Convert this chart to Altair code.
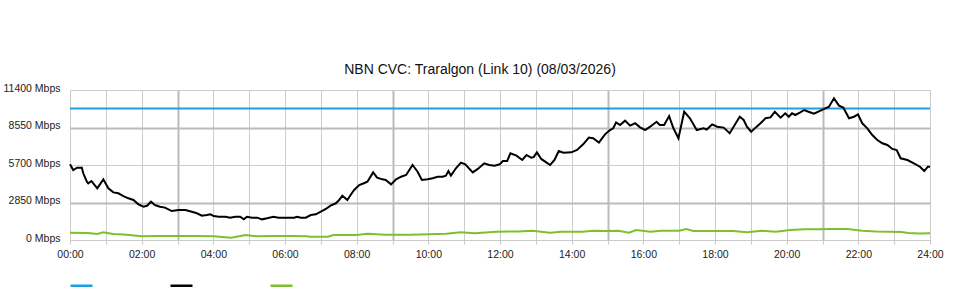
import altair as alt
import pandas as pd

# --- data ---
cap_hours = [0, 24]
cap_values = [10000, 10000]

down_hours = [0.00, 0.09, 0.20, 0.33, 0.37, 0.47, 0.51, 0.60, 0.76, 0.93, 1.07, 1.21, 1.35, 1.49, 1.63,
              1.77, 1.91, 2.05, 2.15, 2.26, 2.37, 2.51, 2.65, 2.84, 3.03, 3.22, 3.40, 3.54, 3.68, 3.82,
              3.92, 4.01, 4.15, 4.34, 4.47, 4.61, 4.75, 4.85, 4.94, 5.08, 5.22, 5.36, 5.50, 5.68, 5.82,
              6.02, 6.25, 6.34, 6.44, 6.58, 6.72, 6.86, 7.00, 7.14, 7.27, 7.42, 7.51, 7.60, 7.74, 7.83,
              7.93, 8.07, 8.20, 8.30, 8.46, 8.57, 8.72, 8.81, 8.96, 9.10, 9.24, 9.38, 9.56, 9.70, 9.82,
              9.98, 10.12, 10.26, 10.40, 10.49, 10.56, 10.63, 10.77, 10.91, 11.03, 11.24, 11.38, 11.56,
              11.70, 11.85, 11.99, 12.08, 12.20, 12.29, 12.46, 12.62, 12.74, 12.87, 12.94, 13.03, 13.15,
              13.29, 13.40, 13.52, 13.64, 13.77, 13.99, 14.15, 14.32, 14.48, 14.60, 14.76, 14.93, 15.07,
              15.16, 15.24, 15.35, 15.49, 15.63, 15.77, 15.91, 16.05, 16.19, 16.37, 16.46, 16.58, 16.72,
              16.84, 16.98, 17.14, 17.30, 17.49, 17.68, 17.77, 17.92, 18.06, 18.24, 18.41, 18.52, 18.69,
              18.80, 18.89, 19.01, 19.13, 19.27, 19.41, 19.55, 19.67, 19.83, 19.96, 20.06, 20.15, 20.24,
              20.38, 20.49, 20.61, 20.76, 20.90, 21.02, 21.18, 21.32, 21.46, 21.58, 21.74, 21.88, 21.99,
              22.11, 22.25, 22.39, 22.53, 22.67, 22.81, 22.95, 23.07, 23.18, 23.37, 23.55, 23.72, 23.84,
              23.94, 24.00]
down_values = [5750, 5320, 5500, 5500, 5070, 4430, 4300, 4480, 3930, 4610, 3930, 3620, 3550, 3340, 3170,
               3040, 2710, 2530, 2600, 2910, 2660, 2530, 2460, 2200, 2280, 2280, 2150, 2030, 1850, 1900,
               1950, 1820, 1770, 1770, 1700, 1770, 1770, 1570, 1770, 1700, 1700, 1570, 1650, 1770, 1700,
               1700, 1700, 1770, 1700, 1700, 1900, 1950, 2150, 2360, 2610, 2790, 3040, 3370, 3040, 3420,
               3800, 4180, 4310, 4430, 5140, 4740, 4610, 4560, 4230, 4610, 4810, 4940, 5700, 5190, 4560,
               4610, 4690, 4810, 4810, 4890, 5240, 4890, 5450, 5880, 5750, 5140, 5400, 5830,
               5700, 5650, 5750, 6000, 6000, 6590, 6410, 6080, 6460, 6260, 6300, 6660, 6160,
               5900, 5700, 6080, 6760, 6640, 6660, 6840, 7270, 7780, 7730, 7400, 8030, 8360,
               8490, 8940, 8740, 9070, 8690, 8870, 8560, 8360, 8610, 8990, 8740, 8740, 9420,
               8490, 7730, 9750, 9250, 8360, 8490, 8400, 8790, 8610, 8540, 8110, 8610, 9370,
               9120, 8610, 8230, 8540, 8870, 9250, 9320, 9750, 9300, 9630, 9370, 9630, 9500,
               9700, 9880, 9750, 9600, 9780, 9930, 10130, 10770, 10210, 10060, 9250, 9370, 9550,
               8870, 8490, 7980, 7600, 7350, 7220, 6920, 6840, 6210, 6080, 5830, 5570, 5240,
               5570, 5570]

up_hours = [0, 0.5, 0.76, 0.93, 1.2, 1.5, 2.0, 2.5, 3.0, 3.5, 4.0, 4.5, 4.9, 5.2, 5.7, 6.2, 6.6, 6.7,
            7.2, 7.35, 8.0, 8.3, 8.8, 9.5, 10.0, 10.5, 10.9, 11.3, 11.9, 12.5, 12.9, 13.4, 13.7, 14.3,
            14.6, 15.0, 15.3, 15.6, 15.8, 16.2, 16.5, 17.0, 17.2, 17.4, 18.0, 18.5, 18.9, 19.3, 19.7,
            20.1, 20.5, 20.9, 21.2, 21.7, 22.1, 22.5, 22.9, 23.2, 23.4, 23.7, 24.0]
up_values = [560, 540, 460, 580, 450, 420, 280, 300, 300, 300, 280, 180, 380, 280, 300, 300, 280, 250,
             250, 380, 380, 470, 400, 400, 430, 470, 580, 510, 630, 650, 710, 560, 630, 630,
             700, 680, 700, 560, 760, 630, 700, 700, 840, 680, 680, 680, 580, 700, 630,
             760, 810, 810, 840, 840, 710, 650, 630, 600, 530, 500, 510]

series_names = ["Capacity", "Download", "Upload"]
series_colors = ["#1ea0df", "#000000", "#7fbf2e"]
y_ticks = [0, 2850, 5700, 8550, 11400]
x_ticks = list(range(25))

rows = []
for name, hs, vs in zip(series_names, [cap_hours, down_hours, up_hours],
                        [cap_values, down_values, up_values]):
    for h, v in zip(hs, vs):
        rows.append({"series": name, "hour": h, "mbps": v})
df = pd.DataFrame(rows)

FONT = "Liberation Sans"

chart = alt.Chart(df).mark_line(strokeWidth=2, interpolate="linear").encode(
    x=alt.X("hour:Q",
            scale=alt.Scale(domain=[0, 24], nice=False, zero=False),
            axis=alt.Axis(values=x_ticks, title=None, domain=False,
                          labelExpr="datum.value % 2 == 0 ? (datum.value < 10 ? '0' : '') + datum.value + ':00' : ''",
                          labelFont=FONT, labelFontSize=10.5, labelColor="#222",
                          tickSize=4, tickColor="#c8c8c8", labelPadding=5,
                          gridColor={"condition": {"test": "datum.value % 6 == 3", "value": "#bbbbbb"}, "value": "#cccccc"},
                          gridWidth={"condition": {"test": "datum.value % 6 == 3", "value": 2}, "value": 1},
                          labelFlush=False)),
    y=alt.Y("mbps:Q",
            scale=alt.Scale(domain=[0, 11400], nice=False),
            axis=alt.Axis(values=y_ticks, title=None, domain=False, ticks=False,
                          labelExpr="datum.value + ' Mbps'",
                          labelFont=FONT, labelFontSize=10.5, labelColor="#222",
                          labelPadding=10, labelOffset=-2,
                          gridColor={"condition": {"test": "datum.value == 2850 || datum.value == 8550", "value": "#bbbbbb"}, "value": "#cccccc"},
                          gridWidth={"condition": {"test": "datum.value == 2850 || datum.value == 8550", "value": 2}, "value": 1})),
    color=alt.Color("series:N",
                    scale=alt.Scale(domain=series_names, range=series_colors),
                    legend=alt.Legend(orient="none", legendX=-1, legendY=183, direction="horizontal",
                                      title=None, symbolType="stroke", symbolSize=484,
                                      symbolStrokeWidth=2.5, labelExpr="''", labelOffset=0,
                                      columnPadding=67, padding=0)),
).properties(
    width=860,
    height=150,
    title=alt.TitleParams("NBN CVC: Traralgon (Link 10) (08/03/2026)", font=FONT, fontSize=14,
                          fontWeight="normal", color="#111", anchor="middle", dx=-20,
                          baseline="alphabetic", offset=14, dy=19),
    autosize=alt.AutoSizeParams(type="none"),
    padding={"left": 70, "top": 90, "right": 30, "bottom": 60},
).configure_view(stroke=None).configure(background="white")

chart.save("out.html", embed_options={"renderer": "svg", "actions": False})
